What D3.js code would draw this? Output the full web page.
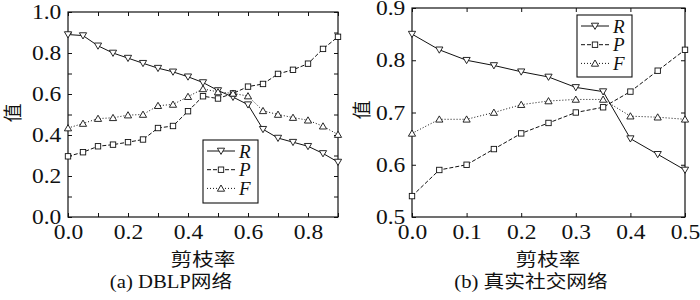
<!DOCTYPE html>
<html>
<head>
<meta charset="utf-8">
<script src="https://cdn.jsdelivr.net/npm/d3@7"></script>
<style>
  body { margin: 0; background: #fff; }
  svg { display: block; }
  .tick text { font-family: "Liberation Serif", serif; font-size: 21px; fill: #111; }
</style>
</head>
<body>
<div id="main"></div>
<script>
// (a) DBLP network
const xA = [0, 0.05, 0.1, 0.15, 0.2, 0.25, 0.3, 0.35, 0.4, 0.45, 0.5, 0.55, 0.6, 0.65, 0.7, 0.75, 0.8, 0.85, 0.9];
const rA = [0.89, 0.885, 0.835, 0.80, 0.775, 0.75, 0.726, 0.708, 0.684, 0.656, 0.617, 0.585, 0.548, 0.428, 0.385, 0.365, 0.345, 0.31, 0.268];
const pA = [0.296, 0.316, 0.345, 0.353, 0.365, 0.378, 0.434, 0.444, 0.516, 0.589, 0.578, 0.603, 0.636, 0.649, 0.698, 0.718, 0.748, 0.82, 0.879];
const fA = [0.434, 0.456, 0.48, 0.484, 0.497, 0.5, 0.543, 0.549, 0.587, 0.625, 0.61, 0.603, 0.59, 0.518, 0.5, 0.485, 0.472, 0.443, 0.402];

// (b) real social network
const xB = [0, 0.05, 0.1, 0.15, 0.2, 0.25, 0.3, 0.35, 0.4, 0.45, 0.5];
const rB = [0.85, 0.82, 0.80, 0.79, 0.778, 0.768, 0.748, 0.74, 0.65, 0.62, 0.59];
const pB = [0.54, 0.59, 0.60, 0.63, 0.66, 0.68, 0.70, 0.71, 0.74, 0.78, 0.82];
const fB = [0.66, 0.687, 0.687, 0.70, 0.715, 0.722, 0.725, 0.725, 0.693, 0.691, 0.687];

const seriesNames = ["R", "P", "F"];
const xTitle = "剪枝率";
const yTitle = "值";
const captions = ["(a) DBLP网络", "(b) 真实社交网络"];

const svg = d3.select("#main").append("svg")
    .attr("width", 700)
    .attr("height", 300);

const styles = {
    R: { dash: null, sym: "down" },
    P: { dash: "4,2", sym: "square" },
    F: { dash: "1,2", sym: "up" }
};

function marker(g, type, x, y) {
    if (type === "square") {
        g.append("rect").attr("x", x - 2.7).attr("y", y - 2.7)
            .attr("width", 5.4).attr("height", 5.4)
            .attr("fill", "#fff").attr("stroke", "#111").attr("stroke-width", 0.9);
    } else {
        const s = type === "down" ? 1 : -1;
        const pts = [[x - 3.6, y - 2.8 * s], [x + 3.6, y - 2.8 * s], [x, y + 3.4 * s]];
        g.append("polygon").attr("points", pts.map(p => p.join(",")).join(" "))
            .attr("fill", "#fff").attr("stroke", "#111").attr("stroke-width", 0.9);
    }
}

function drawPanel(cfg) {
    const x = d3.scaleLinear().domain(cfg.xDomain).range([cfg.left, cfg.right]);
    const y = d3.scaleLinear().domain(cfg.yDomain).range([cfg.bottom, cfg.top]);
    const g = svg.append("g");

    const fmt = d3.format(".1f");
    const xAxis = d3.axisBottom(x).tickValues(cfg.xTicks).tickSizeInner(-4).tickSizeOuter(0).tickPadding(7)
        .tickFormat(d => cfg.xLabel(d) ? fmt(d) : "");
    const yAxis = d3.axisLeft(y).tickValues(cfg.yTicks).tickSizeInner(-4).tickSizeOuter(0).tickPadding(6)
        .tickFormat(d => cfg.yLabel(d) ? fmt(d) : "");

    g.append("g").attr("transform", `translate(0,${cfg.bottom})`).call(xAxis);
    g.append("g").attr("transform", `translate(${cfg.left},0)`).call(yAxis);
    g.append("g").attr("transform", `translate(0,${cfg.top})`)
        .call(d3.axisTop(x).tickValues(cfg.xTicks).tickSizeInner(-4).tickSizeOuter(0).tickFormat(""));
    g.append("g").attr("transform", `translate(${cfg.right},0)`)
        .call(d3.axisRight(y).tickValues(cfg.yTicks).tickSizeInner(-4).tickSizeOuter(0).tickFormat(""));
    g.selectAll(".domain").remove();
    g.selectAll(".tick line").attr("stroke", "#111");
    g.selectAll(".tick text").attr("transform", "scale(1.12,1)");

    g.append("rect")
        .attr("x", cfg.left).attr("y", cfg.top)
        .attr("width", cfg.right - cfg.left).attr("height", cfg.bottom - cfg.top)
        .attr("fill", "none").attr("stroke", "#111").attr("stroke-width", 1.2);

    const data = { R: cfg.r, P: cfg.p, F: cfg.f };
    const line = d3.line().x(d => x(d[0])).y(d => y(d[1]));
    seriesNames.forEach(name => {
        const pts = cfg.xs.map((v, i) => [v, data[name][i]]);
        g.append("path").datum(pts)
            .attr("d", line)
            .attr("fill", "none")
            .attr("stroke", "#111")
            .attr("stroke-width", 1)
            .attr("stroke-dasharray", styles[name].dash);
        const mg = g.append("g");
        pts.forEach(p => marker(mg, styles[name].sym, x(p[0]), y(p[1])));
    });

    // legend
    const lg = g.append("g");
    lg.append("rect")
        .attr("x", cfg.legend.x).attr("y", cfg.legend.y)
        .attr("width", cfg.legend.w).attr("height", cfg.legend.h)
        .attr("fill", "#fff").attr("stroke", "#111").attr("stroke-width", 1.1);
    seriesNames.forEach((name, i) => {
        const ly = cfg.legend.y + 11 + i * 18.7;
        const lx = cfg.legend.x + 4;
        lg.append("line")
            .attr("x1", lx).attr("x2", lx + 28)
            .attr("y1", ly).attr("y2", ly)
            .attr("stroke", "#111").attr("stroke-width", 1)
            .attr("stroke-dasharray", styles[name].dash);
        marker(lg, styles[name].sym, lx + 14, ly);
        lg.append("text")
            .attr("x", lx + 32).attr("y", ly + 6.5)
            .attr("font-family", "Liberation Serif, serif")
            .attr("font-style", "italic")
            .attr("font-size", 19)
            .attr("fill", "#111")
            .text(name);
    });

    // titles
    g.append("text")
        .attr("transform", `translate(${cfg.xTitleX},266) scale(1.2,1)`)
        .attr("text-anchor", "middle")
        .attr("font-family", "Noto Sans CJK SC")
        .attr("font-size", 18)
        .attr("fill", "#111")
        .text(xTitle);
    g.append("text")
        .attr("transform", `translate(${cfg.captionX},288) scale(1.15,1)`)
        .attr("text-anchor", "middle")
        .attr("font-family", "Liberation Serif, Noto Sans CJK SC")
        .attr("font-size", 18)
        .attr("fill", "#111")
        .text(cfg.caption);
    g.append("text")
        .attr("transform", `translate(${cfg.yTitleX},${cfg.yTitleY}) rotate(-90)`)
        .attr("text-anchor", "middle")
        .attr("dy", "0.35em")
        .attr("font-family", "Noto Sans CJK SC")
        .attr("font-size", 19)
        .attr("fill", "#111")
        .text(yTitle);
}

drawPanel({
    xs: xA, r: rA, p: pA, f: fA,
    xDomain: [0, 0.9], yDomain: [0, 1],
    left: 68, right: 338, top: 12, bottom: 217,
    xTicks: d3.range(0, 10).map(i => i / 10),
    yTicks: d3.range(0, 11).map(i => i / 10),
    xLabel: d => Math.round(d * 10) % 2 === 0,
    yLabel: d => Math.round(d * 10) % 2 === 0,
    legend: { x: 203, y: 140, w: 55, h: 63 },
    xTitleX: 203, captionX: 171, caption: captions[0],
    yTitleX: 13, yTitleY: 113
});

drawPanel({
    xs: xB, r: rB, p: pB, f: fB,
    xDomain: [0, 0.5], yDomain: [0.5, 0.9],
    left: 412, right: 685, top: 8, bottom: 217,
    xTicks: d3.range(0, 6).map(i => i / 10),
    yTicks: d3.range(5, 10).map(i => i / 10),
    xLabel: d => true,
    yLabel: d => true,
    legend: { x: 577, y: 15, w: 55, h: 62 },
    xTitleX: 548, captionX: 531, caption: captions[1],
    yTitleX: 362, yTitleY: 110
});
</script>
</body>
</html>
